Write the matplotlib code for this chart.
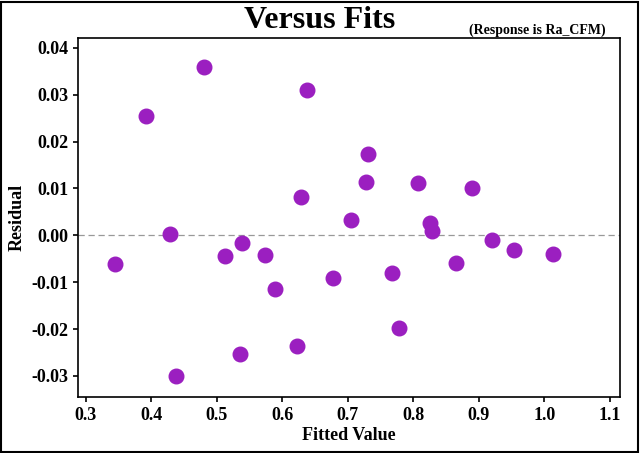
import matplotlib
matplotlib.use("Agg")
import matplotlib.pyplot as plt
from matplotlib.patches import Rectangle

fitted = [0.344, 0.392, 0.428, 0.437, 0.480, 0.512, 0.535, 0.538, 0.573, 0.589,
          0.622, 0.628, 0.637, 0.677, 0.705, 0.727, 0.731, 0.767, 0.778, 0.807,
          0.825, 0.828, 0.865, 0.889, 0.920, 0.953, 1.013]
resid = [-0.0062, 0.0254, 0.0002, -0.0300, 0.0360, -0.0045, -0.0254, -0.0017, -0.0043, -0.0115,
         -0.0237, 0.0081, 0.0310, -0.0092, 0.0032, 0.0113, 0.0173, -0.0081, -0.0198, 0.0111,
         0.0026, 0.0009, -0.0060, 0.0100, -0.0011, -0.0032, -0.0040]

plt.rcParams['font.family'] = ['Liberation Serif', 'DejaVu Serif']
plt.rcParams['font.weight'] = 'bold'

fig = plt.figure(figsize=(6.41, 4.53), dpi=100)
ax = fig.add_axes([78/641, 1 - 397/453, 542/641, 359/453])
ax.scatter(fitted, resid, s=110, color='#9B1FC0', zorder=3)
ax.axhline(0, color='#999999', lw=0.9, ls=(0, (5, 3)))
ax.set_xlim(0.2878, 1.1153)
ax.set_ylim(-0.0345, 0.0421)
ax.set_xticks([0.3, 0.4, 0.5, 0.6, 0.7, 0.8, 0.9, 1.0, 1.1])
ax.set_xticklabels(['0.3', '0.4', '0.5', '0.6', '0.7', '0.8', '0.9', '1.0', '1.1'])
ax.set_yticks([-0.03, -0.02, -0.01, 0.0, 0.01, 0.02, 0.03, 0.04])
ax.set_yticklabels(['-0.03', '-0.02', '-0.01', '0.00', '0.01', '0.02', '0.03', '0.04'])
ax.tick_params(labelsize=13, width=1.2)
for s in ax.spines.values():
    s.set_linewidth(1.2)
ax.set_xlabel('Fitted Value', fontsize=13, fontweight='bold', labelpad=2)
ax.set_ylabel('Residual', fontsize=13, fontweight='bold', labelpad=4)
fig.text(320/641, 1 - 21/453, 'Versus Fits', ha='center', va='center', fontsize=23, fontweight='bold')
fig.text(537/641, 1 - 30/453, '(Response is Ra_CFM)', ha='center', va='center', fontsize=10, fontweight='bold')
fig.patches.append(Rectangle((0.002, 0.002), 0.993, 0.993, transform=fig.transFigure,
                             fill=False, edgecolor='black', lw=1.5))
fig.savefig('out.png', dpi=100)
